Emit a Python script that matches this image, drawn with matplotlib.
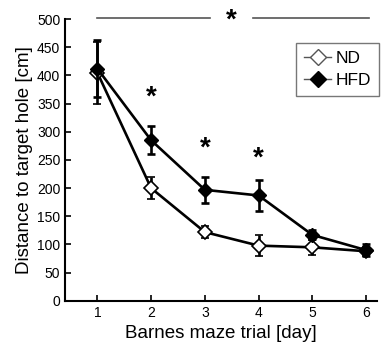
import matplotlib.pyplot as plt
from matplotlib.lines import Line2D

plt.rcParams["font.family"] = ["Liberation Sans", "DejaVu Sans"]

# -------------------------------------------------
# Data
# -------------------------------------------------

days = [1, 2, 3, 4, 5, 6]

nd_mean = [405, 200, 122, 98, 95, 88]
nd_err = [55, 20, 11, 19, 13, 8]

hfd_mean = [412, 285, 197, 187, 117, 90]
hfd_err = [50, 25, 23, 28, 8, 10]

star_days = [2, 3, 4]
star_values = [360, 270, 253]

# -------------------------------------------------
# Figure
# -------------------------------------------------

fig = plt.figure(figsize=(3.83, 3.47), dpi=100)
ax = fig.add_axes([0.170, 0.133, 0.814, 0.812])

ax.errorbar(
    days,
    nd_mean,
    yerr=nd_err,
    color="black",
    marker="D",
    markersize=7.5,
    markerfacecolor="white",
    markeredgecolor="black",
    markeredgewidth=1.2,
    linewidth=1.9,
    elinewidth=1.9,
    capsize=3,
    capthick=1.9,
    zorder=3,
)

ax.errorbar(
    days,
    hfd_mean,
    yerr=hfd_err,
    color="black",
    marker="D",
    markersize=7.5,
    markerfacecolor="black",
    markeredgecolor="black",
    linewidth=1.9,
    elinewidth=1.9,
    capsize=3,
    capthick=1.9,
    zorder=4,
)

for d, v in zip(star_days, star_values):
    ax.text(d, v, "*", ha="center", va="center", fontsize=20, fontweight="bold")

# overall significance bar
ax.plot([1, 3.1], [502, 502], color="#555555", linewidth=1.2, clip_on=False)
ax.plot([3.9, 6.05], [502, 502], color="#555555", linewidth=1.2, clip_on=False)
ax.text(3.5, 498, "*", ha="center", va="center", fontsize=20,
        fontweight="bold", clip_on=False)

ax.set_xlim(0.4, 6.2)
ax.set_ylim(0, 500)
ax.set_xticks(days)
ax.set_yticks(range(0, 501, 50))

ax.spines["top"].set_visible(False)
ax.spines["right"].set_visible(False)
ax.spines["left"].set_linewidth(1.5)
ax.spines["bottom"].set_linewidth(1.5)
ax.tick_params(direction="in", length=4, width=1.2, labelsize=10)

ax.set_xlabel("Barnes maze trial [day]", fontsize=13.5)
ax.set_ylabel("Distance to target hole [cm]", fontsize=13.5, labelpad=3)

handles = [
    Line2D([], [], color="#555555", linewidth=1.0, marker="D", markersize=8,
           markerfacecolor="white", markeredgecolor="#555555", markeredgewidth=1.0),
    Line2D([], [], color="#555555", linewidth=1.0, marker="D", markersize=8,
           markerfacecolor="black", markeredgecolor="black"),
]

ax.legend(
    handles,
    ["ND", "HFD"],
    loc="upper right",
    bbox_to_anchor=(1.035, 0.945),
    fontsize=12.5,
    frameon=True,
    fancybox=False,
    edgecolor="#555555",
    handlelength=1.6,
    handletextpad=0.25,
    borderpad=0.45,
    labelspacing=0.4,
)

plt.savefig("out.png", dpi=100)
